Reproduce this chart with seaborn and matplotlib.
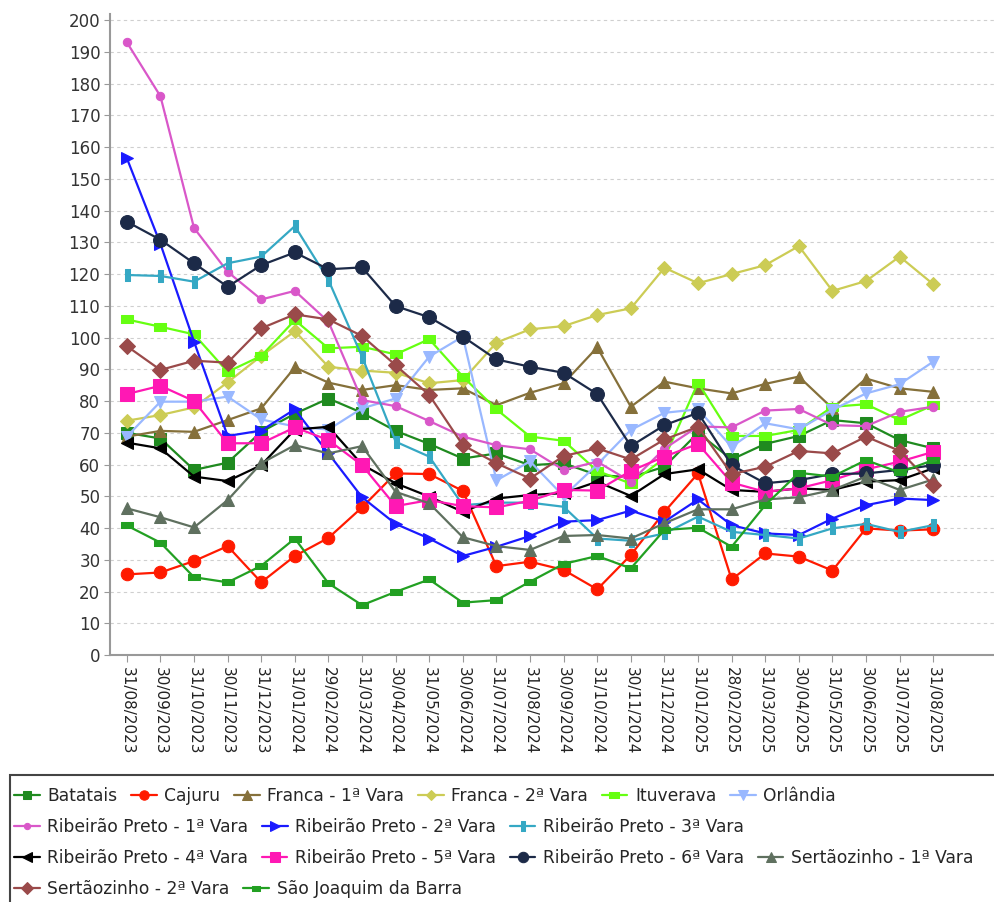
import matplotlib
matplotlib.use("Agg")
import matplotlib.pyplot as plt
import matplotlib.patches as mpatches
import numpy as np
import pandas as pd
import seaborn as sns

dates = ["31/08/2023", "30/09/2023", "31/10/2023", "30/11/2023", "31/12/2023",
         "31/01/2024", "29/02/2024", "31/03/2024", "30/04/2024", "31/05/2024",
         "30/06/2024", "31/07/2024", "31/08/2024", "30/09/2024", "31/10/2024",
         "30/11/2024", "31/12/2024", "31/01/2025", "28/02/2025", "31/03/2025",
         "30/04/2025", "31/05/2025", "30/06/2025", "31/07/2025", "31/08/2025"]

batatais = [70, 68.2, 58.3, 60.6, 70.3, 76, 80.8, 76.3, 70.6, 66.5, 61.9, 63.5, 59.8,
            60.4, 56.7, 56, 59.3, 70, 61.6, 66.5, 69, 74, 73, 67.7, 65.1]
cajuru = [25.4, 26, 29.6, 34.3, 22.9, 31.2, 36.9, 46.5, 57.2, 57, 51.7, 28, 29.4,
          26.8, 20.7, 31.5, 45.1, 57.2, 23.8, 32, 31, 26.6, 39.9, 39.2, 39.6]
franca1 = [68.8, 70.6, 70.3, 74, 77.7, 90.6, 85.8, 83.5, 85, 83.5, 84, 78.7, 82.6,
           85.6, 96.9, 78.2, 86.1, 84, 82.4, 85.4, 87.7, 77.7, 87.1, 84, 82.9]
franca2 = [73.8, 75.6, 78, 85.9, 94.2, 102, 90.8, 89.6, 88.9, 85.6, 86.6, 98.4, 102.6,
           103.6, 107.1, 109.2, 122, 117.1, 120, 122.8, 128.8, 114.7, 117.8, 125.5, 116.8]
ituverava = [105.7, 103.4, 101, 89.2, 94.2, 105.5, 96.6, 97.1, 94.7, 99.5, 87.7, 77.4, 68.8,
             67.5, 58, 54, 62, 85.8, 69, 69, 70.9, 78.2, 79, 74, 78.7]
orlandia = [68.8, 79.8, 79.8, 81.4, 74.2, 72, 71, 77.7, 80.8, 94, 100.3, 55, 61,
            50, 60, 70.9, 76.3, 77.4, 65.6, 73, 71.1, 77.2, 82.4, 85.3, 92.4]
rp1 = [193, 176, 134.5, 120.7, 112, 114.7, 105, 80.3, 78.4, 73.7, 68.8, 66.1, 64.8,
       58.3, 60.9, 54.6, 65, 72, 71.7, 77, 77.5, 72.4, 72.1, 76.6, 78.2]
rp2 = [156.5, 129.5, 98.7, 69, 70.7, 77.4, 63.5, 49.7, 41.3, 36.7, 31.2, 34.1, 37.5,
       42, 42.5, 45.5, 42, 49, 40.9, 38.3, 37.8, 43, 47.2, 49.3, 48.8]
rp3 = [119.7, 119.4, 117.6, 123.4, 125.5, 135.1, 118.1, 94, 67.2, 62.5, 47.2, 48, 48,
       46.7, 36.7, 36, 38.3, 43.6, 38.8, 37.8, 36.7, 39.9, 41.3, 38.8, 40.9]
rp4 = [66.9, 65.1, 56.2, 54.8, 59.8, 71, 71.9, 60, 54.1, 49.9, 45.1, 49.3, 50.4,
       51, 54.6, 50.1, 57, 58.5, 52, 51.4, 52.5, 52, 54.6, 55.1, 58.8]
rp5 = [82.2, 84.8, 80, 66.7, 66.7, 71.7, 67.7, 59.8, 46.9, 48.8, 46.9, 46.5, 48.6,
       52, 51.8, 58, 62.5, 66.5, 54.3, 51.4, 52.5, 55.1, 58.5, 60.9, 64]
rp6 = [136.5, 130.8, 123.4, 116, 122.8, 126.8, 121.5, 122.1, 109.9, 106.4, 100.3, 93.1, 90.8,
       88.9, 82.2, 65.8, 72.4, 76.3, 59.8, 54.1, 55.1, 57, 57.2, 58.3, 59.8]
sert1 = [46.2, 43.4, 40.2, 48.8, 60.4, 66.1, 63.5, 65.8, 51.4, 47.8, 37.1, 34.3, 33.1,
         37.5, 37.8, 36.7, 41.5, 45.9, 45.9, 49, 49.7, 52, 56.2, 52, 55.3]
sert2 = [97.3, 89.8, 92.7, 92.1, 102.9, 107.3, 105.7, 100.5, 91.3, 81.9, 66.1, 60.4, 55.6,
         62.7, 65.1, 61.6, 67.9, 71.9, 57, 59.3, 64.3, 63.5, 68.8, 64.3, 53.5]
sjb = [40.8, 35.4, 24.5, 22.9, 28.1, 36.7, 22.6, 15.7, 19.9, 23.8, 16.5, 17.3, 23.1,
       28.7, 31.2, 27.3, 39.4, 40.1, 34.1, 47.2, 57.4, 56.2, 61.4, 57.5, 61.4]

tall = [(-0.4, -1), (0.4, -1), (0.4, 1), (-0.4, 1), (-0.4, -1)]
wide = [(-1, -0.6), (1, -0.6), (1, 0.6), (-1, 0.6), (-1, -0.6)]

# name, values, color, marker, markersize
series = [
    ("Batatais", batatais, "#1f8a1f", "s", 8),
    ("Cajuru", cajuru, "#ff1a00", "o", 9),
    ("Franca - 1ª Vara", franca1, "#85703a", "^", 9),
    ("Franca - 2ª Vara", franca2, "#cccc55", "D", 7),
    ("Ituverava", ituverava, "#66ff11", wide, 9),
    ("Orlândia", orlandia, "#99b8ff", "v", 9),
    ("Ribeirão Preto - 1ª Vara", rp1, "#d957c9", "o", 6),
    ("Ribeirão Preto - 2ª Vara", rp2, "#1a1aff", ">", 9),
    ("Ribeirão Preto - 3ª Vara", rp3, "#35a8c4", tall, 9),
    ("Ribeirão Preto - 4ª Vara", rp4, "#000000", "<", 9),
    ("Ribeirão Preto - 5ª Vara", rp5, "#ff18b4", "s", 10),
    ("Ribeirão Preto - 6ª Vara", rp6, "#1c2a48", "o", 10),
    ("Sertãozinho - 1ª Vara", sert1, "#5f705f", "^", 9),
    ("Sertãozinho - 2ª Vara", sert2, "#9a4a4a", "D", 8),
    ("São Joaquim da Barra", sjb, "#22a022", wide, 8),
]

sns.set_style("white")
plt.rcParams['font.family'] = ['DejaVu Sans']

fig = plt.figure(figsize=(9.94, 9.02), dpi=100)
ax = fig.add_axes([0.1107, 0.2738, 0.889, 0.711])

x = np.arange(len(dates))
for name, vals, color, marker, ms in series:
    df = pd.DataFrame({"x": x, "y": vals})
    sns.lineplot(data=df, x="x", y="y", ax=ax, color=color, marker=marker,
                 markersize=ms, markeredgecolor=color, linewidth=1.6, label=name)

handles, labels = ax.get_legend_handles_labels()
ax.get_legend().remove()

ax.set_xlim(-0.5, 25.8)
ax.set_ylim(0, 202)
ax.set_yticks(range(0, 201, 10))
ax.set_xticks(x)
ax.set_xticklabels(dates, rotation=-90, fontsize=11, color="#222")
ax.tick_params(axis="y", labelsize=12, labelcolor="#333", length=4, color="#999", direction="out", left=True, pad=3)
ax.tick_params(axis="x", length=5, color="#999", direction="out", bottom=True)
ax.set_xlabel("")
ax.set_ylabel("")
ax.yaxis.grid(True, linestyle=(0, (3, 3)), color="#cfcfcf", linewidth=0.8)
ax.xaxis.grid(False)
for s in ["top", "right"]:
    ax.spines[s].set_visible(False)
for s in ["left", "bottom"]:
    ax.spines[s].set_color("#999")
    ax.spines[s].set_linewidth(1.5)

rows = [handles[0:6], handles[6:9], handles[9:13], handles[13:15]]
row_labels = [labels[0:6], labels[6:9], labels[9:13], labels[13:15]]
row_y = [796, 827, 858, 889]
for h, l, yy in zip(rows, row_labels, row_y):
    fig.legend(h, l, loc="center left", bbox_to_anchor=(14 / 994, 1 - yy / 902),
               ncol=len(h), frameon=False, handlelength=1.5, handletextpad=0.45,
               columnspacing=0.8, fontsize=12.3, borderaxespad=0, borderpad=0,
               markerscale=0.75)

box = mpatches.Rectangle((0.010, -0.01), 1.0, 0.151, transform=fig.transFigure,
                         fill=False, edgecolor="#444", linewidth=1.5)
fig.patches.append(box)

fig.savefig("out.png", dpi=100)
